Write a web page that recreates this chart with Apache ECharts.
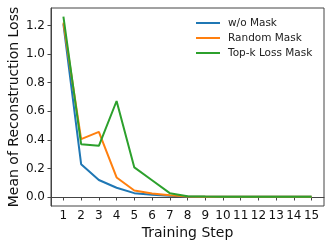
<!DOCTYPE html>
<html><head><meta charset="utf-8">
<script src="https://cdn.jsdelivr.net/npm/echarts@6/dist/echarts.min.js"></script>
<style>html,body{margin:0;padding:0;background:#fff}#c{width:332px;height:249px}</style>
</head><body><div id="c"></div>
<script>
const steps = [1,2,3,4,5,6,7,8,9,10,11,12,13,14,15];
const woMask = [1.21,0.23,0.119,0.065,0.027,0.015,0.008,0.003,0.002,0.001,0.001,0.001,0.001,0.001,0.001];
const randomMask = [1.22,0.405,0.456,0.137,0.045,0.024,0.012,0.004,0.002,0.001,0.001,0.001,0.001,0.001,0.001];
const topkMask = [1.263,0.37,0.358,0.672,0.207,0.117,0.027,0.006,0.003,0.002,0.001,0.001,0.001,0.001,0.001];
const yTicks = [0,0.2,0.4,0.6,0.8,1.0,1.2];
const names = ['w/o Mask','Random Mask','Top-k Loss Mask'];
const colors = ['#1f77b4','#ff7f0e','#2ca02c'];
const font = 'DejaVu Sans';
const chart = echarts.init(document.getElementById('c'), null, {renderer:'canvas'});
const mk = (name, vals, c) => ({
  name, type:'line', data: steps.map((s,i)=>[s, vals[i]]), showSymbol:false, symbol:'none',
  lineStyle:{color:c, width:2}, itemStyle:{color:c}, animation:false
});
chart.setOption({
  animation:false,
  grid:{left:51, top:8, right:8, bottom:43, show:true, borderColor:'#444', borderWidth:1, containLabel:false, outerBoundsMode:'none'},
  legend:{
    data:names, orient:'vertical', left:196, top:17, padding:0, itemWidth:24, itemHeight:2, itemGap:3, icon:'rect',
    textStyle:{fontFamily:font, fontSize:10.5, color:'#222', padding:[0,0,0,3], lineHeight:12}
  },
  xAxis:{
    type:'value', min:0.3, max:15.7, name:'Training Step', nameLocation:'middle', nameGap:20, nameMoveOverlap:false,
    nameTextStyle:{fontFamily:font, fontSize:14, color:'#111'},
    axisLine:{show:true, lineStyle:{color:'#444', width:1}},
    axisTick:{show:true, length:3.5, customValues:steps, lineStyle:{color:'#444'}},
    axisLabel:{customValues:steps, fontFamily:font, fontSize:12, color:'#111', margin:4, hideOverlap:false},
    splitLine:{show:false}
  },
  yAxis:{
    type:'value', min:-0.063, max:1.323, name:'Mean of Reconstruction Loss', nameLocation:'middle', nameGap:30, nameMoveOverlap:false,
    nameTextStyle:{fontFamily:font, fontSize:14, color:'#111'},
    axisLine:{show:true, lineStyle:{color:'#444', width:1}},
    axisTick:{show:true, length:3.5, customValues:yTicks, lineStyle:{color:'#444'}},
    axisLabel:{customValues:yTicks, fontFamily:font, fontSize:12, color:'#111', margin:6, formatter:v=>v.toFixed(1)},
    splitLine:{show:false}
  },
  series:[mk(names[0], woMask, colors[0]), mk(names[1], randomMask, colors[1]), mk(names[2], topkMask, colors[2])]
});
</script></body></html>
